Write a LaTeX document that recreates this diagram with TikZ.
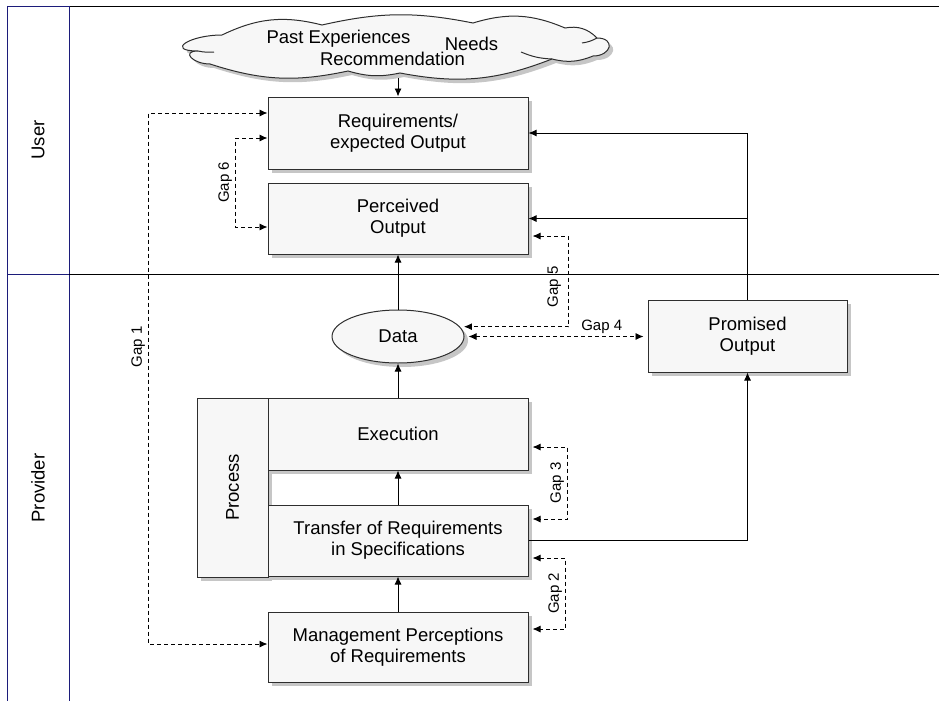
\documentclass[tikz,border=0pt]{standalone}
\usepackage{fontspec}
\setmainfont{Liberation Sans}
\usetikzlibrary{arrows.meta,positioning,shapes.geometric,shadows}
\definecolor{laneBlue}{HTML}{1C1C7A}
\definecolor{boxFill}{HTML}{F7F7F7}
\definecolor{shadowGray}{HTML}{C6C6C6}
\definecolor{edgeGray}{HTML}{2E2E2E}
\newcommand{\cloudoutline}{(222,35) to[bend left=20] (322,25) to[bend left=12] (473,23)
  to[bend left=20] (565,28) to[bend left=28] (597,38) to[out=0,in=0,looseness=2.6] (593,56)
  to[bend left=18] (552,59) to[bend left=16] (400,73) to[bend left=14] (348,71)
  to[bend left=15] (210,64) to[out=180,in=180,looseness=2.5] (198,51)
  to[out=180,in=180,looseness=2.9] (222,35) -- cycle}

\begin{document}
\begin{tikzpicture}[
    x=1pt,y=-1pt,
    >={Latex[length=8pt,width=7pt]},
    every node/.style={font=\fontsize{18.5}{21}\selectfont},
    box/.style={rectangle,draw=edgeGray,fill=boxFill,line width=1pt,minimum width=260pt,minimum height=71pt,align=center,inner sep=2pt,
      drop shadow={shadow xshift=4pt,shadow yshift=-4pt,fill=shadowGray,opacity=1}},
    flow/.style={->,line width=0.9pt},
    gap/.style={<->,dash pattern=on 4pt off 3pt,line width=0.9pt},
    gapR/.style={gap,shorten <=4pt,shorten >=4pt},
    gaplabel/.style={font=\fontsize{15}{17}\selectfont,inner sep=3pt},
    lane/.style={rotate=90},
    frame/.style={line width=0.9pt}
  ]
  \useasboundingbox (0,0) rectangle (939,701);
  %% Swimlanes
  \draw[frame,laneBlue] (7,6) -- (69,6);
  \draw[frame] (69,6) -- (939,6);
  \draw[frame,laneBlue] (7,6) -- (7,701);
  \draw[frame,laneBlue] (69,6) -- (69,701);
  \draw[frame,laneBlue] (7,274) -- (69,274);
  \draw[frame] (69,274) -- (939,274);
  \node[lane] (userlane) at (38,140) {User};
  \node[lane] (provlane) at (38,488) {Provider};
  %% Expectation sources (cloud)
  \fill[shadowGray,xshift=4pt,yshift=-4pt] \cloudoutline;
  \filldraw[draw=edgeGray,fill=boxFill,line width=1pt] \cloudoutline;
  \draw[edgeGray,line width=1pt] (198,51) to[bend right=8] (214,52);
  \draw[edgeGray,line width=1pt] (597,38) to[bend left=10] (582,43);
  \draw[edgeGray,line width=1pt] (552,59) to[bend left=10] (521,52);
  \node[minimum width=427pt,minimum height=62pt,inner sep=0pt] (cloud) at (398,47) {};
  \node[anchor=base] (past) at (338.5,44) {Past Experiences};
  \node[anchor=base] (needs) at (471.5,51) {Needs};
  \node[anchor=base] (recom) at (392.5,66) {Recommendation};
  %% User side
  \node[box,minimum height=72pt] (req) at (398,133) {Requirements/\\expected Output};
  \node[box] (perc) at (398,218.5) {Perceived\\Output};
  %% Provider side
  \node[ellipse,draw=edgeGray,fill=boxFill,line width=1pt,minimum width=132pt,minimum height=53pt,inner sep=0pt,
    drop shadow={shadow xshift=4pt,shadow yshift=-4pt,fill=shadowGray,opacity=1}] (data) at (398,336.5) {Data};
  \node[box,minimum width=199pt,minimum height=72pt] (prom) at (747.5,336) {Promised\\Output};
  \node[box,minimum width=71pt,minimum height=179pt,label={[lane]center:Process}] (proc) at (232.5,487.5) {};
  \node[box,minimum height=72pt] (exec) at (398,434) {Execution};
  \node[box] (trans) at (398,540.5) {Transfer of Requirements\\in Specifications};
  \node[box,minimum height=70pt] (mgmt) at (398,647) {Management Perceptions\\of Requirements};
  %% Flows
  \draw[flow] (cloud.south -| req.north) -- (req.north);
  \draw[flow] (data) -- (perc);
  \draw[flow] (exec) -- (data);
  \draw[flow] (trans) -- (exec);
  \draw[flow] (mgmt) -- (trans);
  \draw[flow] (trans.east) -| (prom.south);
  \draw[flow] (prom.north) |- (req.east);
  \draw[flow] (prom.north |- perc.east) -- (perc.east);
  %% Gaps
  \draw[gap] ([yshift=20pt]req.west) -- ++(-119,0) |- node[gaplabel,lane,anchor=south,pos=0.22] (gap1) {Gap 1} ([yshift=3pt]mgmt.west);
  \draw[gapR] ([yshift=-17.5pt]trans.east) -- ++(37,0) |- node[gaplabel,lane,anchor=south,pos=0.25] (gap2) {Gap 2} ([yshift=18pt]mgmt.east);
  \draw[gapR] ([yshift=-13pt]exec.east) -- ++(39,0) |- node[gaplabel,lane,anchor=south,pos=0.25] (gap3) {Gap 3} ([yshift=21.5pt]trans.east);
  \draw[gapR] (data.east) -- node[gaplabel,above,pos=0.75,inner sep=2pt] (gap4) {Gap 4} (data.east -| prom.west);
  \draw[gapR] ([yshift=-17.5pt]perc.east) -- ++(40,0) |- node[gaplabel,lane,anchor=south,pos=0.28,inner sep=7pt] (gap5) {Gap 5} (data.9);
  \draw[gap] ([yshift=-5pt]req.west) -- ++(-32,0) |- node[gaplabel,lane,anchor=south,pos=0.25] (gap6) {Gap 6} ([yshift=-8.5pt]perc.west);
\end{tikzpicture}
\end{document}
